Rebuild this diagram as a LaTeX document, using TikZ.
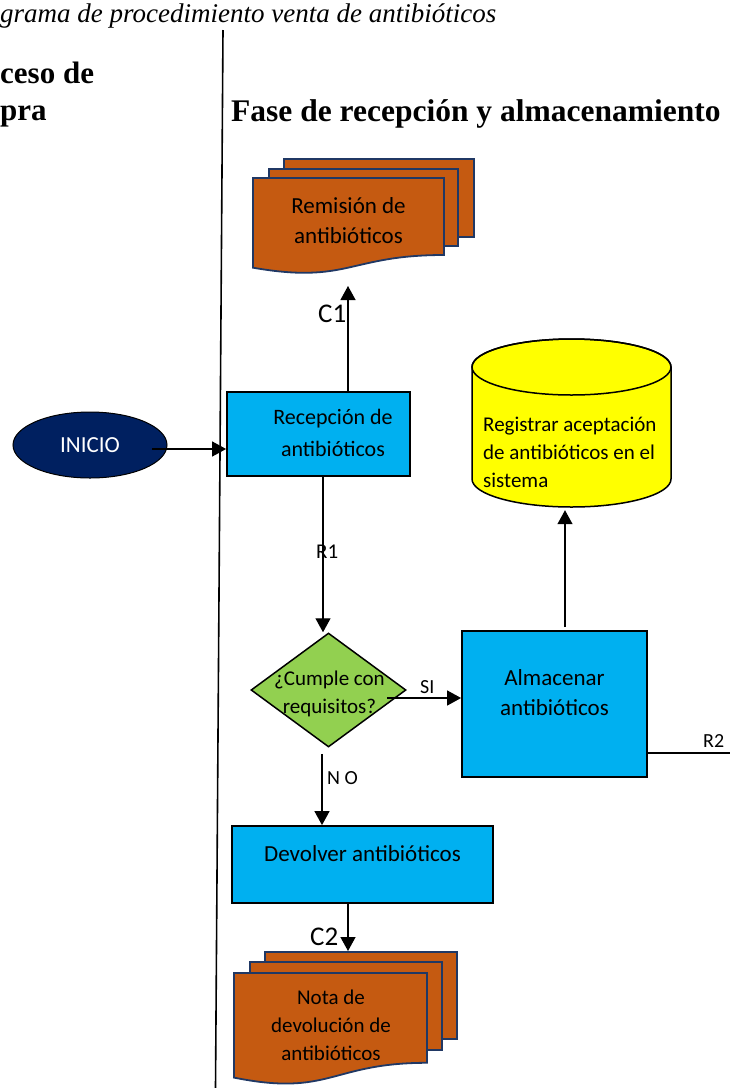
\documentclass[tikz,border=0pt]{standalone}
\usepackage{fontspec}
\setmainfont{Liberation Serif}
\newfontfamily\calib{Carlito}
\usetikzlibrary{shapes.geometric,arrows.meta,calc}
\definecolor{boxblue}{HTML}{00B0F0}
\definecolor{docfill}{HTML}{C55A11}
\definecolor{docline}{HTML}{203864}
\definecolor{startfill}{HTML}{002060}
\definecolor{decfill}{HTML}{92D050}
\definecolor{dbfill}{HTML}{FFFF00}
\newcommand\fsz[2]{\fontsize{#1}{#2}\selectfont}
\begin{document}
\begin{tikzpicture}[x=1pt,y=-1pt,
  arr/.style={line width=1.3pt,-{Triangle[length=14pt,width=15pt]}},
  ln/.style={line width=1.3pt},
  box/.style={draw=black,line width=1.8pt,fill=boxblue,inner sep=0},
  doc/.style={draw=docline,line width=1.8pt,fill=docfill},
  txt/.style={inner sep=0,align=center,font=\calib\fsz{23}{30}},
  lbl/.style={inner sep=0,anchor=base west,font=\calib\fsz{20}{24}},
  ttl/.style={anchor=base west,inner sep=0}]
\useasboundingbox (0,0) rectangle (730,1088);
% titles
\node[ttl,font=\itshape\fsz{27}{32}] (title) at (0,22) {grama de procedimiento venta de antibióticos};
\node[ttl,font=\bfseries\fsz{31}{37}] (lane1a) at (0,83) {ceso de};
\node[ttl,font=\bfseries\fsz{31}{37}] (lane1b) at (0,120) {pra};
\node[ttl,font=\bfseries\fsz{31.5}{37}] (lane2) at (231,121) {Fase de recepción y almacenamiento};
\draw[line width=1.6pt] (223,30) coordinate (divtop) -- (215.5,1088) coordinate (divbot);
% Remision document stack
\draw[doc] (284,159) rectangle (474,237);
\draw[doc] (269,169) rectangle (458,246);
\draw[doc] (253,178) -- (444,178) -- (444,255) .. controls (348.5,255) and (348.5,284.3) .. (253,267.7) -- cycle;
\node[txt] (rem) at (348.5,221) {Remisión de\\antibióticos};
% Recepcion
\node[box,minimum width=183,minimum height=84] (recep) at (318.5,434) {};
\node[txt,font=\calib\fsz{22}{32}] (receptxt) at (333,433) {Recepción de\\antibióticos};
% Inicio
\node[ellipse,draw=black,line width=1pt,fill=startfill,minimum width=154,minimum height=66,inner sep=0,text=white,font=\calib\fsz{23}{28}] (inicio) at (90,445) {INICIO};
% Cylinder
\node[inner sep=0,minimum width=199,minimum height=168] (cyl) at (571.5,423) {};
\draw[fill=dbfill,line width=1.5pt] (472,367) -- (472,479) arc[start angle=180,end angle=0,x radius=99.5,y radius=28] -- (671,367) arc[start angle=0,end angle=-180,x radius=99.5,y radius=28] -- cycle;
\draw[line width=1.5pt] (571.5,367) ellipse [x radius=99.5,y radius=28];
\node[inner sep=0,align=left,anchor=west,font=\calib\fsz{21}{28}] (cyltxt) at (483,452.5) {Registrar aceptación\\de antibióticos en el\\sistema};
% Decision
\node[diamond,draw=black,line width=1.5pt,fill=decfill,minimum width=155,minimum height=114,inner sep=0] (dec) at (328.5,690) {};
\node[txt,font=\calib\fsz{21}{28}] (dectxt) at (329.5,694) {¿Cumple con\\requisitos?};
% Almacenar
\node[box,minimum width=185,minimum height=146] (alm) at (554.5,704) {};
\node[txt] (almtxt) at (554.5,692.5) {Almacenar\\antibióticos};
% Devolver
\node[box,minimum width=261,minimum height=77] (dev) at (362.5,864.5) {};
\node[txt,anchor=base] (devtxt) at (362.5,861) {Devolver antibióticos};
% Nota document stack
\draw[doc] (265,952) rectangle (457,1039);
\draw[doc] (250,962) rectangle (442,1050);
\draw[doc] (234,973) -- (427,973) -- (427,1062.8) .. controls (330.5,1062.8) and (330.5,1097) .. (234,1077.6) -- cycle;
\node[txt,font=\calib\fsz{21}{28}] (nota) at (331,1025) {Nota de\\devolución de\\antibióticos};
% connectors
\coordinate (iniout) at ($(inicio.center)+(62,4)$);
\draw[arr] (iniout) -- (iniout -| recep.west);
\coordinate (c1end) at (348,286);
\draw[arr] (recep.north -| c1end) -- (c1end);
\coordinate (r1x) at (323,0);
\draw[arr] (recep.south -| r1x) -- (dec.north -| r1x);
\coordinate (siout) at (387,698);
\draw[arr] (siout) -- (siout -| alm.west);
\coordinate (r2end) at (730,753);
\draw[ln] (alm.east |- r2end) -- (r2end);
\coordinate (dbx) at (565,0);
\draw[arr] ($(alm.north -| dbx)+(0,-3)$) -- ($(cyl.south -| dbx)+(0,3)$);
\coordinate (nox) at (322,0);
\draw[arr] ($(dec.south -| nox)+(0,6)$) -- (dev.north -| nox);
\coordinate (c2end) at (348,951);
\draw[arr] (dev.south -| c2end) -- (c2end);
% labels
\node[lbl,font=\calib\fsz{27}{30}] (c1) at (318,322) {C1};
\node[lbl,font=\calib\fsz{21}{24}] (r1) at (316,558) {R1};
\node[lbl] (si) at (420,693) {SI};
\node[lbl] (r2) at (703,747) {R2};
\node[lbl] (no) at (327,784) {N O};
\node[lbl,font=\calib\fsz{27}{30}] (c2) at (310,945) {C2};
\end{tikzpicture}
\end{document}
